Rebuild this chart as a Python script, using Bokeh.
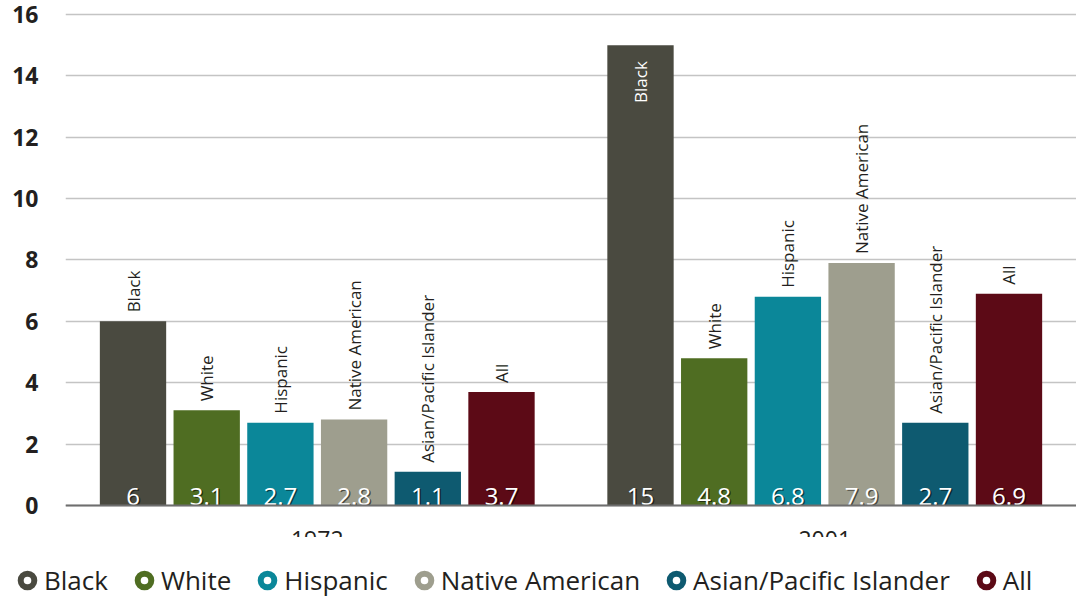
import math
import numpy as np
from bokeh.plotting import figure
from bokeh.layouts import column
from bokeh.models import (ColumnDataSource, FactorRange, FixedTicker, Span,
                          Legend, LegendItem, Range1d)
from bokeh.core.properties import value
from bokeh.embed import file_html
from bokeh.resources import INLINE

# ---- data ----
years = ["1972", "2001"]
races = ["Black", "White", "Hispanic", "Native American",
         "Asian/Pacific Islander", "All"]
rates_1972 = [6, 3.1, 2.7, 2.8, 1.1, 3.7]
rates_2001 = [15, 4.8, 6.8, 7.9, 2.7, 6.9]
race_colors = ["#4a4a40", "#4f6d22", "#0b8799", "#9e9e8e", "#0e5a70", "#5c0a16"]
y_ticks = [0, 2, 4, 6, 8, 10, 12, 14, 16]

FONT = "Open Sans"
DARK = "#231f20"

xs = [(y, r) for y in years for r in races]
rates = rates_1972 + rates_2001
colors = race_colors * len(years)
race_names = races * len(years)
vlabels = [f"{v:g}" for v in rates]
inside = [v > 12 for v in rates]

src = ColumnDataSource(dict(x=xs, top=rates, color=colors, race=race_names, vlabel=vlabels))
out_src = ColumnDataSource(dict(
    x=[x for x, f in zip(xs, inside) if not f],
    top=[t for t, f in zip(rates, inside) if not f],
    race=[r for r, f in zip(race_names, inside) if not f]))
in_src = ColumnDataSource(dict(
    x=[x for x, f in zip(xs, inside) if f],
    top=[t for t, f in zip(rates, inside) if f],
    race=[r for r, f in zip(race_names, inside) if f]))

p = figure(width=1076, height=537,
           x_range=FactorRange(*xs, group_padding=0.886, range_padding=0.416,
                               range_padding_units="absolute"),
           y_range=Range1d(-1.043, 16.456),
           output_backend="svg", toolbar_location=None,
           min_border_left=65, min_border_right=0,
           min_border_top=0, min_border_bottom=0)
p.frame_align = False

p.outline_line_color = None
p.background_fill_color = "white"
p.border_fill_color = "white"
p.xaxis.visible = False
p.xgrid.visible = False

p.yaxis.ticker = FixedTicker(ticks=y_ticks)
p.yaxis.axis_line_color = None
p.yaxis.major_tick_line_color = None
p.yaxis.minor_tick_line_color = None
p.yaxis.major_tick_out = 0
p.yaxis.major_tick_in = 0
p.yaxis.major_label_standoff = 27
p.yaxis.major_label_text_font = FONT
p.yaxis.major_label_text_font_style = "bold"
p.yaxis.major_label_text_font_size = "23px"
p.yaxis.major_label_text_color = DARK

p.ygrid.ticker = FixedTicker(ticks=y_ticks)
p.ygrid.grid_line_color = "#c4c4c4"
p.ygrid.grid_line_width = 1.5

p.vbar(x="x", top="top", width=0.9, fill_color="color", line_color=None, source=src)

p.add_layout(Span(location=0, dimension="width", line_color="#6e6e6e", line_width=2))

# category labels above bars (rotated)
p.text(x="x", y="top", text="race", source=out_src, angle=math.pi / 2,
       text_align="left", text_baseline="middle", y_offset=-9,
       text_font=value(FONT), text_font_size="17px", text_color=DARK)
p.text(x="x", y="top", text="race", source=in_src, angle=math.pi / 2,
       text_align="right", text_baseline="middle", y_offset=16,
       text_font=value(FONT), text_font_size="17px", text_color="white")

# value labels with soft shadow
p.text(x="x", y=0, text="vlabel", source=src, text_align="center",
       text_baseline="alphabetic", x_offset=1.5, y_offset=-7.5,
       text_font=value(FONT), text_font_size="24px", text_color="black", text_alpha=0.55)
p.text(x="x", y=0, text="vlabel", source=src, text_align="center",
       text_baseline="alphabetic", y_offset=-9,
       text_font=value(FONT), text_font_size="24px", text_color="white")

# year labels (partly hidden below the frame, as in the original)
p.text(x=years, y=[0] * len(years), text=years, text_align="center",
       text_baseline="top", y_offset=26,
       text_font=value(FONT), text_font_size="23px", text_color=DARK)

# ---- legend strip ----
lg = figure(width=1076, height=61, x_range=Range1d(0, 1), y_range=Range1d(0, 1),
            output_backend="svg", toolbar_location=None,
            min_border_left=0, min_border_right=0, min_border_top=0, min_border_bottom=0)
lg.frame_align = False
lg.axis.visible = False
lg.grid.visible = False
lg.outline_line_color = None
lg.background_fill_color = "white"
lg.border_fill_color = "white"

items = []
for race, col in zip(races, race_colors):
    r = lg.scatter(x=np.array([np.nan]), y=np.array([np.nan]), marker="circle", size=18,
                   fill_color="white", line_color=col, line_width=6)
    items.append(LegendItem(label=race, renderers=[r]))

legend = Legend(items=items, orientation="horizontal", location=(10, 0),
                glyph_width=34, glyph_height=34, label_standoff=-4, spacing=19,
                padding=0, margin=0, border_line_color=None, background_fill_alpha=0,
                label_text_font=FONT, label_text_font_size="26px",
                label_text_color=DARK)
lg.add_layout(legend)

layout = column(p, lg, spacing=0)
open("out.html", "w").write(file_html(layout, INLINE))
